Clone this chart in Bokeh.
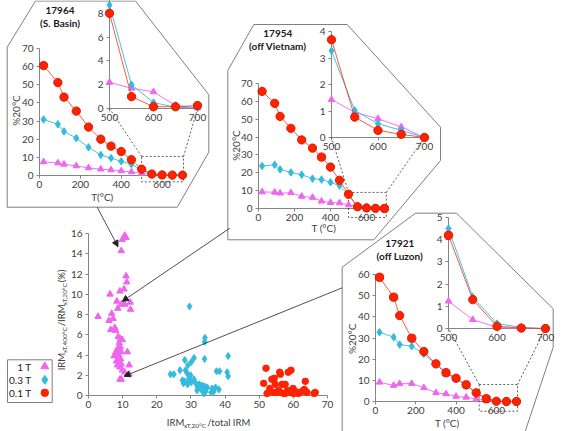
import math
from bokeh.plotting import figure
from bokeh.models import Range1d, FixedTicker, Arrow, NormalHead
from bokeh.core.properties import value
from bokeh.embed import file_html
from bokeh.resources import INLINE

W, H = 562, 431
FONT = "Lato"
RED, CYAN, MAG = "#FF2200", "#33BBDD", "#EE66EE"
AXC, TXT = "#858585", "#404040"

# ---------------- data ----------------
T_MAIN = [20, 90, 120, 180, 240, 300, 350, 400, 450, 500, 550, 600, 650, 700]
T_INSET = [500, 550, 600, 650, 700]

s17964_1T = [7.5, 6.9, 6.2, 5.3, 4.2, 3.5, 3.1, 2.5, 2.0, 1.2, 0.6, 0.3, 0.1, 0.0]
s17964_03T = [30.9, 28.2, 24.3, 20.6, 15.5, 11.3, 9.6, 7.8, 6.2, 3.0, 0.9, 0.3, 0.1, 0.1]
s17964_01T = [60.6, 51.2, 43.2, 35.5, 26.7, 20.0, 16.2, 13.2, 8.7, 3.5, 0.8, 0.3, 0.2, 0.2]
z17964_1T = [2.2, 1.7, 1.4, 0.25, 0.05]
z17964_03T = [8.7, 2.0, 0.5, 0.1, 0.05]
z17964_01T = [8.0, 1.0, 0.15, 0.15, 0.25]

s17954_1T = [9.3, 9.1, 8.6, 8.8, 6.8, 6.2, 4.1, 3.3, 3.1, 2.0, 1.0, 0.7, 0.35, 0.0]
s17954_03T = [23.8, 24.5, 21.9, 20.2, 18.9, 16.7, 16.2, 14.7, 12.8, 7.5, 1.0, 0.5, 0.25, 0.0]
s17954_01T = [65.6, 58.9, 51.6, 44.9, 38.4, 33.8, 28.8, 23.2, 15.8, 8.0, 1.0, 0.3, 0.1, 0.0]
z17954_1T = [1.43, 0.95, 0.71, 0.4, 0.0]
z17954_03T = [3.27, 1.02, 0.52, 0.27, 0.0]
z17954_01T = [3.69, 0.77, 0.27, 0.12, 0.0]

s17921_1T = [9.1, 7.6, 8.4, 8.5, 6.5, 4.1, 3.6, 2.4, 2.0, 1.2, 0.4, 0.1, 0.0, 0.0]
s17921_03T = [32.7, 30.4, 26.9, 26.1, 22.5, 17.5, 13.3, 10.8, 7.5, 4.0, 1.4, 0.2, 0.05, 0.0]
s17921_01T = [58.7, 49.3, 40.6, 29.9, 23.6, 17.8, 13.6, 11.0, 7.9, 4.1, 1.3, 0.1, 0.0, 0.0]
z17921_1T = [1.23, 0.4, 0.05, 0.0, 0.0]
z17921_03T = [4.5, 1.42, 0.22, 0.05, 0.0]
z17921_01T = [4.2, 1.3, 0.1, 0.02, 0.0]

# scatter: IRMxT,20C / total IRM (x) vs IRMxT,400C / IRMxT,20C (y)
mag_x = [10.6, 9.9, 11.0, 9.6, 11.0, 11.2, 10.4, 9.2, 6.3, 12.2, 12.3, 9.6, 10.6, 8.3, 8.6,
         2.8, 6.8, 7.2, 6.0, 7.7, 6.5, 8.0, 8.7, 9.4, 9.9, 9.0, 9.3, 8.5, 8.0, 11.4, 8.7,
         9.6, 7.5, 8.8, 9.4, 8.2, 9.0, 9.6, 8.5, 9.2, 11.9, 9.9, 10.6, 11.9, 9.2, 9.6, 8.9]
mag_y = [15.8, 15.4, 15.6, 14.3, 11.8, 11.2, 10.5, 10.3, 10.0, 9.2, 8.5, 9.0, 9.0, 9.3, 8.6,
         7.8, 8.1, 7.6, 7.4, 6.7, 6.5, 6.4, 5.8, 5.6, 5.5, 5.2, 4.8, 4.6, 4.3, 4.3, 4.1,
         4.3, 3.9, 3.8, 3.6, 3.4, 3.3, 3.1, 3.0, 2.8, 3.0, 2.5, 2.3, 2.1, 1.6, 1.6, 3.8]
cyan_x = [29.6, 34.1, 34.0, 40.9, 34.0, 28.2, 30.9, 30.1, 29.1, 26.8, 28.4, 24.0, 25.0, 28.9,
          37.5, 38.4, 40.6, 40.9, 29.9, 29.4, 30.9, 28.1, 27.8, 29.0, 31.4, 32.4, 33.3, 30.1,
          32.0, 32.8, 34.0, 34.8, 31.8, 33.0, 34.3, 36.2, 37.2, 36.7, 38.2, 35.9, 33.8, 29.4, 27.5]
cyan_y = [8.8, 5.7, 5.3, 3.9, 3.6, 3.5, 3.7, 3.3, 3.0, 2.5, 2.5, 2.1, 2.1, 2.2,
          2.4, 2.4, 2.3, 1.9, 2.0, 1.7, 1.6, 1.4, 1.2, 1.1, 1.2, 1.1, 1.0, 1.3,
          0.8, 0.9, 0.9, 0.8, 0.5, 0.6, 0.4, 0.7, 0.8, 0.4, 0.6, 0.3, 0.2, 1.5, 1.5]
red_x = [52.0, 51.3, 53.7, 54.4, 56.0, 56.2, 59.3, 58.5, 54.7, 56.7, 57.6, 63.5, 53.1, 52.3,
         54.1, 55.2, 56.2, 57.2, 58.1, 58.9, 60.1, 60.9, 61.5, 62.5, 63.2, 64.0, 66.4, 66.1,
         59.9, 58.3, 55.7, 57.6, 60.6]
red_y = [2.7, 1.2, 1.6, 1.7, 2.3, 2.1, 2.5, 2.3, 1.1, 1.1, 1.1, 1.4, 0.7, 0.2,
         0.3, 0.3, 0.3, 0.2, 0.3, 0.3, 0.2, 0.3, 0.2, 0.4, 0.6, 0.3, 0.3, 0.2,
         0.7, 0.5, 0.5, 0.2, 0.4]

LEGEND_LABELS = ["1 T", "0.3 T", "0.1 T"]
ARROW_TARGETS = [(8.65, 14.7), (9.9, 9.3), (10.4, 1.9)]   # in scatter data units

# ---------------- layout (page pixels) ----------------
class Frame:
    def __init__(s, x0, x1, y0, y1, left, w, top, h):
        s.x0, s.x1, s.y0, s.y1 = x0, x1, y0, y1
        s.left, s.w, s.top, s.h = left, w, top, h
        s.bottom = top + h
    def px(s, x):
        return s.left + (x - s.x0) / (s.x1 - s.x0) * s.w
    def py(s, y):  # page y (down)
        return s.bottom - (y - s.y0) / (s.y1 - s.y0) * s.h

F1 = Frame(0, 700, 0, 70, 39, 143, 48, 127)
F1i = Frame(500, 700, 0, 10, 109, 88, -11, 119)
F2 = Frame(0, 700, 0, 70, 258, 126, 83, 125)
F2i = Frame(500, 700, 0, 4, 331, 93, 31, 106)
F3 = Frame(0, 700, 0, 60, 375, 141, 274, 127)
F3i = Frame(500, 700, 0, 5, 448, 97, 217, 111)
FS = Frame(0, 70, 0, 16, 88, 239, 233, 162)

def by(y):
    return H - y

# ---------------- base (callout shapes, texts, legend) ----------------
def page_fig():
    p = figure(frame_width=W, frame_height=H, x_range=Range1d(0, W), y_range=Range1d(0, H),
               min_border=0, x_axis_location=None, y_axis_location=None, title=None,
               output_backend="svg", toolbar_location=None,
               background_fill_color=None, border_fill_color=None, outline_line_color=None)
    p.grid.visible = False
    p.styles = {"position": "absolute", "left": "0px", "top": "0px"}
    return p

base = page_fig()
base.background_fill_color = "white"
base.border_fill_color = "white"

POLYS = [
    [(6.7, 46.7), (35, 0.5), (135, 0.5), (208.3, 94.3), (208.3, 151.7), (176.7, 206.7), (6.7, 206.7)],
    [(227.3, 70), (253.3, 24), (346.7, 24), (440, 126.7), (440, 160), (373.3, 239.3), (227.3, 239.3)],
    [(341.7, 445), (341.7, 266.7), (415, 212.7), (456, 212.7), (552.7, 308.3), (552.7, 346.7), (520, 445)],
]
for poly in POLYS:
    base.patch([q[0] for q in poly], [by(q[1]) for q in poly], fill_color="white",
               line_color="#707070", line_width=0.9)

def txt(p, x, y, s, size="10px", bold=False, angle=0.0, align="center", color="#1a1a1a", base_="middle"):
    p.text(x=[x], y=[by(y)], text=[s], angle=angle, text_align=align, text_baseline=base_,
           text_font=value(FONT), text_font_size=size, text_color=color,
           text_font_style="bold" if bold else "normal")

for (x, y, a, b) in [(59.5, 10, "17964", "(S. Basin)"), (277.3, 33.3, "17954", "(off Vietnam)"),
                     (399.3, 242.7, "17921", "(off Luzon)")]:
    txt(base, x, y, a, "10px", True)
    txt(base, x, y + 12.5, b, "10px", True)

for (x, y, s) in [(101.7, 196, "T(°C)"), (323.3, 227.7, "T (°C)"), (446.7, 422.7, "T (°C)")]:
    txt(base, x, y, s, "10px", color=TXT)
for (x, y) in [(15, 110), (235, 145), (351.7, 338.3)]:
    txt(base, x, y, "%20°C", "10px", angle=math.pi / 2, color=TXT)

# composite scatter axis titles (with subscripts)
CW = {"I": .29, "R": .62, "M": .90, "x": .50, "T": .58, ",": .24, "0": .58, "2": .58, "4": .58,
      "°": .40, "C": .67, "/": .40, "t": .35, "o": .56, "a": .50, "l": .25, " ": .2,
      "(": .30, "%": .83, ")": .30}
def tw(s, size):
    return sum(CW.get(c, .55) for c in s) * size

MS, SS = 9.5, 6.5
xl = [("IRM", MS), ("xT,20°C", SS), ("/total IRM", MS)]
tot = sum(tw(s, z) for s, z in xl)
cx = FS.left + FS.w / 2
x = cx - tot / 2
for s, z in xl:
    yy = 421.7 if z == MS else 424.5
    txt(base, x, yy, s, f"{z}px", align="left", color=TXT)
    x += tw(s, z)

yl = [("IRM", MS), ("xT,400°C", SS), ("/IRM", MS), ("xT,20°C", SS), (" (%)", MS)]
tot = sum(tw(s, z) for s, z in yl)
cy = FS.top + FS.h / 2 + 4
y = cy + tot / 2
for s, z in yl:
    xx = 60.7 if z == MS else 63.5
    txt(base, xx, y, s, f"{z}px", align="left", angle=math.pi / 2, color=TXT)
    y -= tw(s, z)

# legend
base.quad(left=[7], right=[51.7], top=[by(359.3)], bottom=[by(402)], fill_color="white",
          line_color="#707070", line_width=0.9)
LEG_Y = [366, 379.3, 392.3]
for lab, ly in zip(LEGEND_LABELS, LEG_Y):
    txt(base, 31, ly, lab, "10px", align="right", color="#222222")
base.scatter([44.3], [by(LEG_Y[0])], marker="triangle", size=8, fill_color=MAG, line_color=MAG)
base.scatter([44.3], [by(LEG_Y[1])], marker="diamond", size=9, fill_color=CYAN, line_color=CYAN)
base.scatter([44.3], [by(LEG_Y[2])], marker="circle", size=7.5, fill_color=RED, line_color=RED)

# ---------------- axis figures ----------------
def axis_fig(fr, xticks, yticks, bl=24, bb=18, bt=8, br=12):
    p = figure(frame_width=fr.w, frame_height=fr.h, x_range=Range1d(fr.x0, fr.x1),
               y_range=Range1d(fr.y0, fr.y1), min_border_left=bl, min_border_right=br,
               min_border_top=bt, min_border_bottom=bb, title=None,
               output_backend="svg", toolbar_location=None,
               background_fill_color=None, border_fill_color=None, outline_line_color=None)
    p.grid.visible = False
    p.styles = {"position": "absolute", "left": f"{fr.left - bl}px", "top": f"{fr.top - bt}px"}
    p.xaxis.ticker = FixedTicker(ticks=xticks)
    p.yaxis.ticker = FixedTicker(ticks=yticks)
    for ax in (p.xaxis[0], p.yaxis[0]):
        ax.axis_line_color = AXC
        ax.major_tick_line_color = AXC
        ax.major_tick_out = 3
        ax.major_tick_in = 0
        ax.minor_tick_out = 0
        ax.minor_tick_in = 0
        ax.major_label_text_font = FONT
        ax.major_label_text_font_size = "10px"
        ax.major_label_text_color = TXT
    p.xaxis.major_label_standoff = 2
    p.yaxis.major_label_standoff = 3
    return p

MAIN_X = [0, 200, 400, 600]
INS_X = [500, 600, 700]
figs = [
    axis_fig(F1, MAIN_X, list(range(0, 71, 10))),
    axis_fig(F1i, INS_X, [0, 2, 4, 6, 8]),
    axis_fig(F2, MAIN_X, list(range(0, 71, 10))),
    axis_fig(F2i, INS_X, [0, 1, 2, 3, 4]),
    axis_fig(F3, MAIN_X, list(range(0, 61, 10))),
    axis_fig(F3i, INS_X, [0, 1, 2, 3, 4, 5]),
    axis_fig(FS, list(range(0, 71, 10)), list(range(0, 17, 2))),
]

# ---------------- overlay (data marks, zoom boxes, arrows) ----------------
ov = page_fig()

def sub(fr):
    return ov.subplot(x_source=Range1d(fr.x0, fr.x1), y_source=Range1d(fr.y0, fr.y1),
                      x_target=Range1d(fr.left, fr.left + fr.w),
                      y_target=Range1d(H - fr.bottom, H - fr.top))

def draw_series(sp, xs, m1, m03, m01):
    sp.line(xs, m1, line_color=MAG, line_width=1, line_alpha=0.9)
    sp.scatter(xs, m1, marker="triangle", size=6.5, fill_color=MAG, line_color=MAG)
    sp.line(xs, m03, line_color=CYAN, line_width=1, line_alpha=0.9)
    sp.scatter(xs, m03, marker="diamond", size=7.5, fill_color=CYAN, line_color=CYAN)
    sp.line(xs, m01, line_color=RED, line_width=1, line_alpha=0.75)
    sp.scatter(xs, m01, marker="circle", size=8.3, fill_color=RED, line_color="#E01800")

PANELS = [
    (F1, F1i, (s17964_1T, s17964_03T, s17964_01T), (z17964_1T, z17964_03T, z17964_01T), (500, 705, -3.5, 10.5)),
    (F2, F2i, (s17954_1T, s17954_03T, s17954_01T), (z17954_1T, z17954_03T, z17954_01T), (500, 710, -5.0, 9.0)),
    (F3, F3i, (s17921_1T, s17921_03T, s17921_01T), (z17921_1T, z17921_03T, z17921_01T), (515, 705, -4.6, 8.0)),
]
for fm, fi, main, ins, box in PANELS:
    spm = sub(fm)
    bx0, bx1, by0, by1 = box
    spm.quad(left=[bx0], right=[bx1], bottom=[by0], top=[by1], fill_color=None,
             line_color="#333333", line_width=0.8, line_dash="2 2")
    # connectors from zoom box to inset corners
    for bxx, ixx in ((bx0, fi.x0), (bx1, fi.x1)):
        ov.line([fm.px(bxx), fi.px(ixx)], [by(fm.py(by1)), by(fi.py(0))],
                line_color="#333333", line_width=0.8, line_dash="2 2")
    draw_series(spm, T_MAIN, *main)
    spi = sub(fi)
    draw_series(spi, T_INSET, *ins)

sps = sub(FS)
sps.scatter(mag_x, mag_y, marker="triangle", size=6.5, fill_color=MAG, line_color=MAG)
sps.scatter(cyan_x, cyan_y, marker="diamond", size=7, fill_color=CYAN, line_color=CYAN)
sps.scatter(red_x, red_y, marker="circle", size=6.5, fill_color=RED, line_color=RED)

ARROW_STARTS = [(96.7, 206.7), (229.3, 227.7), (341.7, 287.3)]
for (sx, sy), (tx, ty) in zip(ARROW_STARTS, ARROW_TARGETS):
    ov.add_layout(Arrow(x_start=sx, y_start=by(sy), x_end=FS.px(tx), y_end=by(FS.py(ty)),
                        line_color="#222222", line_width=0.8,
                        end=NormalHead(size=6, fill_color="#222222", line_color="#222222")))

roots = [base] + figs + [ov]
open("out.html", "w").write(file_html(roots, INLINE, "IRM thermal demagnetization"))
